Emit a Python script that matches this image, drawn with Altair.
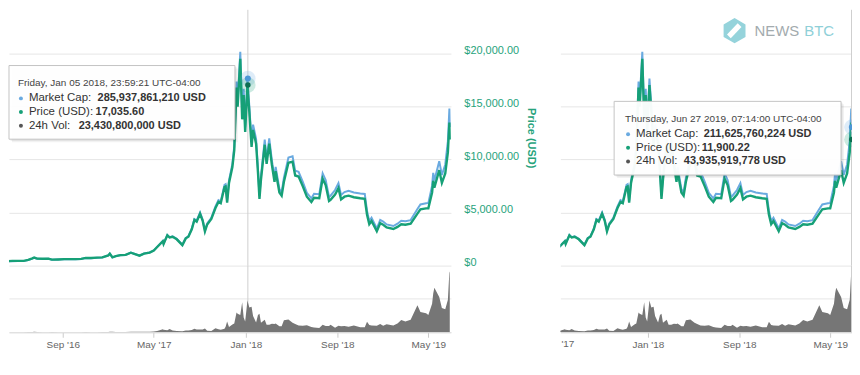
import altair as alt
import pandas as pd

# ---------------- data ----------------
dates = [
    "2016-04-01", "2016-04-20", "2016-05-05", "2016-05-20", "2016-06-01", "2016-06-12", "2016-06-17",
    "2016-06-25", "2016-07-10", "2016-07-25", "2016-08-03", "2016-08-20", "2016-09-05", "2016-09-20",
    "2016-10-05", "2016-10-20", "2016-11-01", "2016-11-15", "2016-12-01", "2016-12-15", "2016-12-31",
    "2017-01-04", "2017-01-11", "2017-01-20", "2017-02-01", "2017-02-15", "2017-03-01", "2017-03-10",
    "2017-03-24", "2017-04-05", "2017-04-20", "2017-05-01", "2017-05-10", "2017-05-25", "2017-05-27",
    "2017-06-06", "2017-06-12", "2017-06-20", "2017-07-01", "2017-07-16", "2017-07-25", "2017-08-01",
    "2017-08-10", "2017-08-17", "2017-08-23", "2017-09-01", "2017-09-08", "2017-09-14", "2017-09-20",
    "2017-10-01", "2017-10-12", "2017-10-20", "2017-10-26", "2017-11-05", "2017-11-08", "2017-11-12",
    "2017-11-17", "2017-11-26", "2017-12-01", "2017-12-07", "2017-12-10", "2017-12-17", "2017-12-22",
    "2017-12-26", "2017-12-30", "2018-01-05", "2018-01-10", "2018-01-16", "2018-01-20", "2018-01-28",
    "2018-02-02", "2018-02-06", "2018-02-10", "2018-02-20", "2018-02-25", "2018-03-04", "2018-03-11",
    "2018-03-18", "2018-03-21", "2018-03-31", "2018-04-06", "2018-04-12", "2018-04-24", "2018-05-05",
    "2018-05-12", "2018-05-21", "2018-06-01", "2018-06-12", "2018-06-24", "2018-07-01", "2018-07-15",
    "2018-07-24", "2018-08-01", "2018-08-10", "2018-08-14", "2018-08-26", "2018-09-04", "2018-09-11",
    "2018-09-20", "2018-10-01", "2018-10-15", "2018-11-01", "2018-11-13", "2018-11-19", "2018-11-25",
    "2018-12-01", "2018-12-15", "2018-12-24", "2019-01-01", "2019-01-10", "2019-01-28", "2019-02-08",
    "2019-02-18", "2019-03-01", "2019-03-15", "2019-04-02", "2019-04-10", "2019-04-25", "2019-05-01",
    "2019-05-11", "2019-05-14", "2019-05-17", "2019-05-30", "2019-06-06", "2019-06-15", "2019-06-22",
    "2019-06-26", "2019-06-27",
]
price_usd = [
    417, 440, 448, 442, 537, 680, 760,
    660, 650, 655, 560, 580, 610, 605,
    612, 630, 730, 712, 755, 780, 960,
    1130, 780, 895, 985, 1010, 1220, 1110,
    935, 1130, 1230, 1420, 1750, 2300, 2050,
    2860, 2650, 2720, 2480, 1930, 2570, 2720,
    3420, 4300, 4150, 4890, 4230, 3230, 3880,
    4400, 5430, 6000, 5890, 7400, 7460, 5950,
    7800, 9300, 10900, 16800, 15000, 19500, 13800,
    16100, 12600, 17035.6, 14500, 11200, 12800, 11500,
    8800, 6300, 8100, 11400, 9600, 11500, 9500,
    7900, 8900, 6900, 6600, 7900, 9700, 9800,
    8500, 8400, 7500, 6500, 6000, 6400, 6350,
    8200, 7600, 6100, 6200, 6700, 7300, 6250,
    6500, 6600, 6450, 6350, 6300, 4800, 3900,
    4200, 3250, 4000, 3850, 3600, 3450, 3650,
    3900, 3850, 3950, 4900, 5300, 5400, 5400,
    6900, 8000, 7350, 9000, 7800, 8700, 10700,
    13500, 11900.22,
]
market_cap_bn = [
    6.40, 6.77, 6.92, 6.85, 8.35, 10.59, 11.86,
    10.31, 10.18, 10.28, 8.80, 9.14, 9.64, 9.58,
    9.72, 10.03, 11.64, 11.39, 12.10, 12.53, 15.44,
    18.17, 12.56, 14.43, 15.91, 16.34, 19.79, 18.03,
    15.20, 18.40, 20.05, 23.19, 28.61, 37.67, 33.58,
    46.90, 43.49, 44.66, 40.80, 31.79, 42.38, 44.88,
    56.50, 71.12, 68.68, 81.03, 70.13, 53.59, 64.41,
    73.13, 90.36, 99.90, 98.13, 123.43, 124.43, 99.31,
    130.26, 155.50, 182.47, 281.40, 251.25, 326.82, 231.43,
    270.00, 211.43, 285.94, 243.60, 188.27, 215.30, 193.55,
    148.28, 106.22, 136.65, 192.55, 162.24, 194.58, 160.84,
    133.83, 150.86, 117.09, 112.07, 134.22, 165.00, 166.89,
    144.84, 143.30, 128.18, 111.15, 102.72, 109.76, 109.03,
    140.88, 130.72, 104.98, 106.76, 115.51, 126.00, 107.94,
    112.39, 114.31, 111.84, 110.30, 109.56, 83.52, 67.90,
    73.16, 56.68, 69.84, 67.26, 62.96, 60.41, 63.98,
    68.45, 67.68, 69.52, 86.39, 93.49, 95.36, 95.47,
    122.13, 141.60, 130.17, 159.57, 138.45, 154.51, 190.14,
    240.03, 211.63,
]
volume_bn = [
    0.08, 0.07, 0.08, 0.07, 0.12, 0.20, 0.30,
    0.18, 0.10, 0.09, 0.15, 0.08, 0.07, 0.07,
    0.07, 0.08, 0.12, 0.10, 0.10, 0.12, 0.15,
    0.35, 0.30, 0.12, 0.15, 0.16, 0.40, 0.35,
    0.30, 0.35, 0.40, 0.60, 0.90, 2.30, 1.80,
    1.50, 2.50, 1.30, 0.90, 0.75, 1.30, 1.30,
    1.70, 2.60, 2.00, 2.00, 2.00, 2.70, 1.20,
    0.95, 2.90, 2.20, 1.80, 2.60, 4.00, 8.00,
    3.90, 5.80, 6.40, 14.7, 13.7, 12.7, 22.2,
    11.0, 8.00, 23.43, 18.4, 18.8, 12.0, 7.20,
    12.7, 13.7, 7.00, 9.30, 5.60, 5.60, 6.30,
    6.10, 6.40, 4.50, 4.40, 8.90, 9.40, 7.00,
    6.10, 5.00, 4.90, 5.20, 3.90, 3.50, 3.20,
    5.60, 4.60, 4.60, 5.60, 3.30, 4.80, 4.40,
    4.60, 4.00, 5.00, 3.80, 3.70, 7.70, 5.30,
    5.00, 4.90, 6.20, 4.90, 6.00, 5.00, 6.40,
    9.00, 8.00, 9.20, 20.0, 15.0, 14.0, 12.8,
    21.0, 28.7, 33.0, 26.0, 18.0, 17.0, 24.0,
    45.0, 43.94,
]

price_ticks = [0, 5000, 10000, 15000, 20000]
volume_grid_bn = [0, 25]
left_tick_months = [(2016, 9), (2017, 5), (2018, 1), (2018, 9), (2019, 5)]
right_tick_months = [(2018, 1), (2018, 9), (2019, 5)]

tip_labels = ["Market Cap:", "Price (USD):", "24h Vol:"]
tip_left = ["Friday, Jan 05 2018, 23:59:21 UTC-04:00", "285,937,861,210 USD", "17,035.60", "23,430,800,000 USD"]
tip_right = ["Thursday, Jun 27 2019, 07:14:00 UTC-04:00", "211,625,760,224 USD", "11,900.22", "43,935,919,778 USD"]

hover_left = pd.DataFrame({"date": ["2018-01-06T03:59:21Z"], "price": [17035.60], "mcap": [285.937861210]})
hover_right = pd.DataFrame({"date": ["2019-06-27T11:14:00Z"], "price": [11900.22], "mcap": [211.625760224]})

df = pd.DataFrame({"date": dates, "price": price_usd, "mcap": market_cap_bn, "vol": volume_bn})
dummy = pd.DataFrame({"k": [0]})

# ---------------- style ----------------
FONT = "Liberation Sans"
GREEN = "#16a077"
GREEN_LBL = "#27a37c"
BLUE = "#6aaae0"
GREY_VOL = "#767676"
GRID = "#e6e6e6"

PRICE_MAX = 24131
MCAP_MAX = 390.9
VOL_MAX = 49.3
LW, RW = 444, 293
PH, VH = 257, 67


def dt(y, m, d=1):
    return alt.DateTime(year=y, month=m, date=d, utc=True)


def xscale(d0, d1):
    return alt.Scale(type="utc", domain=[d0, d1])


def x_axis(months):
    return alt.Axis(values=[dt(y, m) for y, m in months], format="%b '%y", labelColor="#666",
                    labelFontSize=10, labelFont=FONT, tickColor="#cccccc", tickSize=5, labelPadding=2,
                    domainColor="#dddddd", grid=False, title=None)


def y_price(axis=None):
    return alt.Y("price:Q", scale=alt.Scale(domain=[0, PRICE_MAX], nice=False, zero=False), axis=axis)


def y_mcap():
    return alt.Y("mcap:Q", scale=alt.Scale(domain=[0, MCAP_MAX], nice=False, zero=False), axis=None)


def tx(txt, x, y, size, color="#333333", weight="normal", baseline="middle"):
    return alt.Chart(dummy).mark_text(text=txt, align="left", baseline=baseline, fontSize=size,
                                      fontWeight=weight, color=color, font=FONT).encode(
        x=alt.value(x), y=alt.value(y))


def tooltip(x0, y0, x1, y1, lines, dx, val_x):
    parts = [
        alt.Chart(dummy).mark_rect(color="#000000", opacity=0.05).encode(
            x=alt.value(x0 + 3), x2=alt.value(x1 + 3), y=alt.value(y0 + 3), y2=alt.value(y1 + 3)),
        alt.Chart(dummy).mark_rect(color="#000000", opacity=0.08).encode(
            x=alt.value(x0 + 1.5), x2=alt.value(x1 + 1.5), y=alt.value(y0 + 1.5), y2=alt.value(y1 + 1.5)),
        alt.Chart(dummy).mark_rect(fill="white", fillOpacity=0.96, stroke="#c4c4c4", strokeWidth=1).encode(
            x=alt.value(x0), x2=alt.value(x1), y=alt.value(y0), y2=alt.value(y1)),
        tx(lines[0], x0 + dx, y0 + 18, 10, color="#444444"),
    ]
    bullet_colors = [BLUE, GREEN, "#555555"]
    for i in range(3):
        yy = y0 + 33 + i * 13.7
        parts.append(alt.Chart(dummy).mark_circle(size=16, opacity=1, color=bullet_colors[i]).encode(
            x=alt.value(x0 + dx + 3), y=alt.value(yy)))
        parts.append(tx(tip_labels[i], x0 + dx + 11, yy, 11.5))
        parts.append(tx(lines[i + 1], val_x[i], yy, 11, weight="bold"))
    return parts


def hover_marks(hdf, xenc, clip):
    return [
        alt.Chart(hdf).mark_circle(size=240, opacity=0.22, color=BLUE, clip=clip).encode(x=xenc, y=y_mcap()),
        alt.Chart(hdf).mark_circle(size=240, opacity=0.22, color=GREEN, clip=clip).encode(x=xenc, y=y_price()),
        alt.Chart(hdf).mark_circle(size=36, opacity=1, color="#4d97d6", clip=clip).encode(x=xenc, y=y_mcap()),
        alt.Chart(hdf).mark_circle(size=30, opacity=1, color="#0c6e52", clip=clip).encode(x=xenc, y=y_price()),
    ]


# ---------------- left panel ----------------
xl_scale = xscale(dt(2016, 4, 11), dt(2019, 6, 30))
xl_none = alt.X("date:T", scale=xl_scale, axis=None)
xl_axis = alt.X("date:T", scale=xl_scale, axis=x_axis(left_tick_months))

price_axis = alt.Axis(orient="right", values=price_ticks,
                      labelExpr="datum.value == 0 ? '$0' : format(datum.value, '$,.2f')",
                      grid=True, gridColor=GRID, domain=False, ticks=False, tickSize=0, labelPadding=13,
                      labelColor=GREEN_LBL, labelFontSize=11, labelFont=FONT, labelBaseline="alphabetic",
                      title="Price (USD)", titleColor=GREEN_LBL, titleFontSize=11, titleFontWeight="bold",
                      titleAngle=90, titlePadding=7, titleFont=FONT)

left_price = alt.layer(
    alt.Chart(hover_left).mark_rule(color="#cfcfcf", strokeWidth=1).encode(x=xl_none),
    alt.Chart(df).mark_line(color=BLUE, strokeWidth=2, clip=True).encode(x=xl_none, y=y_mcap()),
    alt.Chart(df).mark_line(color=GREEN, strokeWidth=2.4, clip=True).encode(x=xl_none, y=y_price(price_axis)),
    *tooltip(0, 56, 227, 130, tip_left, 9, [89, 87, 70]),
    *hover_marks(hover_left, xl_none, False),
).resolve_scale(y="independent").properties(width=LW, height=PH)

vol_y = alt.Y("vol:Q", scale=alt.Scale(domain=[0, VOL_MAX], nice=False),
              axis=alt.Axis(values=volume_grid_bn, grid=True, gridColor=GRID, labels=False, ticks=False,
                            domain=False, title=None))

left_vol = alt.layer(
    alt.Chart(hover_left).mark_rule(color="#cfcfcf", strokeWidth=1).encode(x=xl_axis),
    alt.Chart(df).mark_area(color=GREY_VOL, clip=True).encode(x=xl_axis, y=vol_y),
).properties(width=LW, height=VH)

left = alt.vconcat(left_price, left_vol, spacing=0, bounds="flush")

# ---------------- right panel ----------------
xr_scale = xscale(dt(2017, 5, 13), dt(2019, 6, 28))
xr_none = alt.X("date:T", scale=xr_scale, axis=None)
xr_axis = alt.X("date:T", scale=xr_scale, axis=x_axis(right_tick_months))

grid_only = alt.Axis(values=price_ticks, grid=True, gridColor=GRID, labels=False, ticks=False,
                     domain=False, title=None)

HEX = "M0,-1L0.87,-0.5L0.87,0.5L0,1L-0.87,0.5L-0.87,-0.5Z"
STRIPE = "M-0.6,0.3L0.25,-0.6L0.55,-0.3L-0.3,0.6Z"

right_price = alt.layer(
    alt.Chart(df).mark_line(color=BLUE, strokeWidth=2, clip=True).encode(x=xr_none, y=y_mcap()),
    alt.Chart(df).mark_line(color=GREEN, strokeWidth=2.4, clip=True).encode(x=xr_none, y=y_price(grid_only)),
    alt.Chart(dummy).mark_rule(color="#cfcfcf", strokeWidth=1).encode(
        x=alt.value(RW - 0.5), y=alt.value(0), y2=alt.value(PH)),
    alt.Chart(dummy).mark_point(shape=HEX, size=640, filled=True, opacity=1, color="#95d3db").encode(
        x=alt.value(175), y=alt.value(21)),
    alt.Chart(dummy).mark_point(shape=STRIPE, size=640, filled=True, opacity=1, color="white").encode(
        x=alt.value(175), y=alt.value(21)),
    tx("NEWS", 195, 21, 15, color="#a3abae"),
    tx("BTC", 245, 21, 15, color="#8fd0d8"),
    *tooltip(54, 92, 282, 166, tip_right, 11, [144, 142, 124]),
    *hover_marks(hover_right, xr_none, True),
).resolve_scale(y="independent").properties(width=RW, height=PH)

right_vol = alt.layer(
    alt.Chart(df).mark_area(color=GREY_VOL, clip=True).encode(x=xr_axis, y=vol_y),
    alt.Chart(dummy).mark_rule(color="#cfcfcf", strokeWidth=1).encode(
        x=alt.value(RW - 0.5), y=alt.value(0), y2=alt.value(VH)),
    tx("'17", 1, VH + 7, 10, color="#666666", baseline="top"),
).properties(width=RW, height=VH)

right = alt.vconcat(right_price, right_vol, spacing=0, bounds="flush")

chart = alt.hconcat(left, right, spacing=23).properties(
    padding={"left": 0, "top": 0, "right": 0, "bottom": 0}
).configure_view(stroke=None).configure_axis(labelFont=FONT, titleFont=FONT)

chart.save("out.html", embed_options={"renderer": "svg", "actions": False})
